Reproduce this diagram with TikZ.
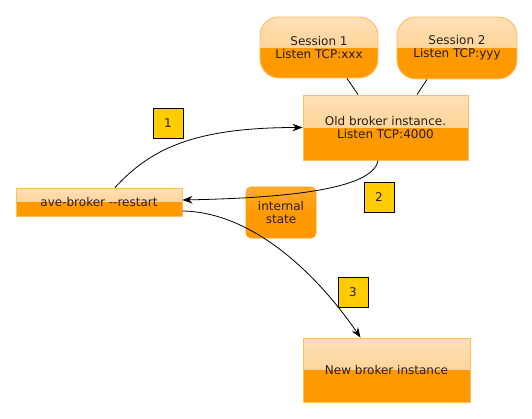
\documentclass[tikz,border=0pt]{standalone}
\usepackage{fontspec}
\setmainfont{DejaVu Sans}
\usepackage{tikz}
\usetikzlibrary{arrows.meta, calc}
\usepackage{xcolor}
\definecolor{boxorange}{RGB}{255, 153, 0}
\definecolor{boxlight}{RGB}{255, 224, 182}
\definecolor{boxmid}{RGB}{255, 200, 125}
\definecolor{boxedge}{RGB}{255, 190, 100}
\definecolor{stepyellow}{RGB}{255, 204, 0}
\definecolor{textdark}{RGB}{40, 30, 20}

\tikzset{
  boxnode/.style={draw=boxedge, line width=0.9pt, inner sep=0pt, align=center,
    text=textdark, font=\fontsize{12}{13}\selectfont,
    path picture={
      \fill[sharp corners, top color=boxlight, bottom color=boxmid]
        (path picture bounding box.north west) rectangle (path picture bounding box.east);
      \fill[sharp corners, boxorange]
        (path picture bounding box.west) rectangle (path picture bounding box.south east);
    }},
  stepbox/.style={draw=black, line width=0.6pt, fill=stepyellow, minimum size=30pt,
    inner sep=0pt, text=textdark, font=\fontsize{12}{13}\selectfont},
  link/.style={line width=0.8pt, black}
}

\begin{document}
\begin{tikzpicture}[x=1pt, y=-1pt, >={Stealth[length=10pt, width=7.5pt]}]

  \useasboundingbox (0,0) rectangle (532,418);

  % --- Sessions ---
  \node[boxnode, rounded corners=19pt, minimum width=118pt, minimum height=61pt]
    (sess1) at (319, 47.5) {Session 1\\Listen TCP:xxx};
  \node[boxnode, rounded corners=19pt, minimum width=120pt, minimum height=62pt]
    (sess2) at (457, 48) {Session 2\\Listen TCP:yyy};

  % --- Broker instances ---
  \node[boxnode, minimum width=165pt, minimum height=65pt]
    (oldbroker) at (385.5, 127.5) {Old broker instance.\\Listen TCP:4000};
  \node[boxnode, minimum width=167pt, minimum height=64pt]
    (newbroker) at (386.5, 370) {New broker instance};

  % --- Restart command ---
  \node[boxnode, minimum width=166pt, minimum height=28pt]
    (restart) at (99, 202) {ave-broker {-}{-}restart};

  % --- Internal state ---
  \node[draw=boxorange, line width=0.6pt, rounded corners=5pt, minimum width=70pt,
    minimum height=51pt, inner sep=0pt, align=center, text=textdark,
    font=\fontsize{12}{13}\selectfont, top color=boxorange!82!white,
    bottom color=boxorange, middle color=boxorange]
    (state) at (281, 212.5) {internal\\state};

  % --- Step numbers ---
  \node[stepbox] (step1) at (168, 123) {1};
  \node[stepbox] (step2) at (379, 197) {2};
  \node[stepbox] (step3) at (353, 292) {3};

  % Session links
  \draw[link] ([xshift=28pt]sess1.south) -- ([xshift=-27.5pt]oldbroker.north);
  \draw[link] ([xshift=-30pt]sess2.south) -- ([xshift=31.5pt]oldbroker.north);

  % --- Restart sequence ---
  \draw[link, ->] ([xshift=16pt]restart.north)
    .. controls +(35,-38) and +(-110,0) .. (oldbroker.west);
  \draw[link, ->] ([xshift=-7.5pt]oldbroker.south)
    .. controls +(-5,30) and +(97,-2) .. ([yshift=2pt]restart.east);
  \draw[link, ->] ([yshift=-9pt]restart.east)
    .. controls +(68,1) and +(-46,-67) .. ([xshift=-26pt]newbroker.north);

\end{tikzpicture}
\end{document}
